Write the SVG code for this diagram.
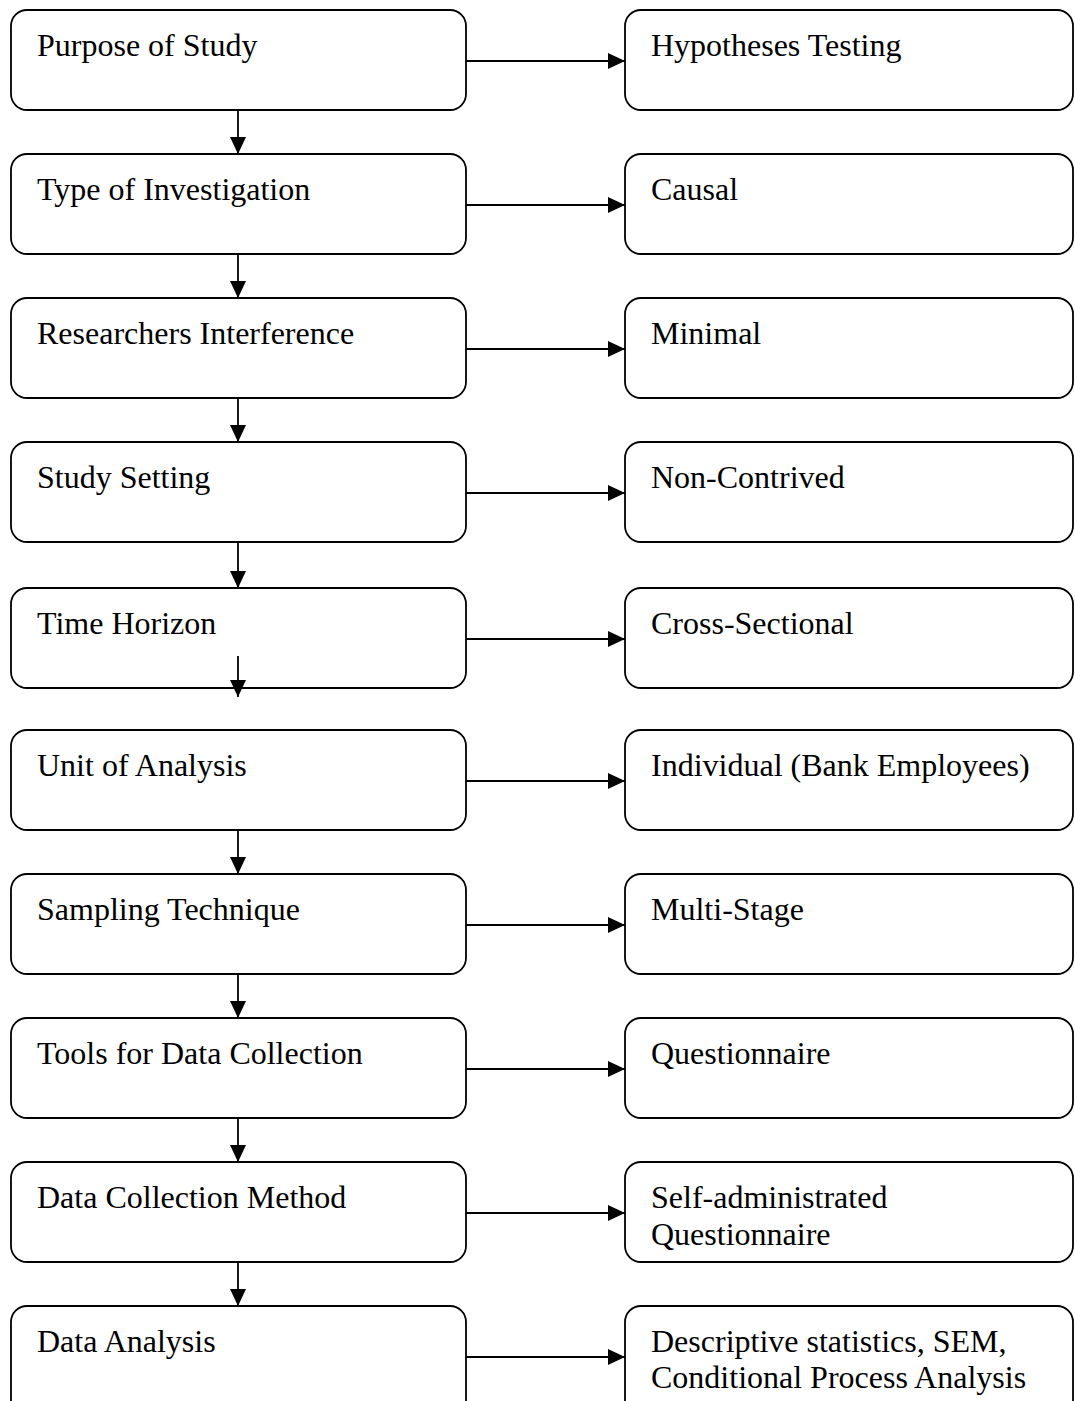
<svg xmlns="http://www.w3.org/2000/svg" width="1075" height="1401" viewBox="0 0 1075 1401">
  <style>
    .box { fill: #ffffff; stroke: #000000; stroke-width: 1.8; }
    .lbl { font-family: "Liberation Serif", "Times New Roman", serif; font-size: 32px; fill: #000000; }
    .edge { stroke: #000000; stroke-width: 1.8; fill: none; marker-end: url(#head); }
  </style>
  <defs>
    <marker id="head" markerUnits="userSpaceOnUse" markerWidth="17" markerHeight="16" refX="17" refY="8" orient="auto">
      <path d="M0,0 L17,8 L0,16 Z" fill="#000000"/>
    </marker>
  </defs>
  <rect width="1075" height="1401" fill="#ffffff"/>

  <!-- left column: study design steps -->
  <g id="purpose"><rect class="box" x="11" y="10" width="455" height="100" rx="16"/><text class="lbl" x="37" y="56">Purpose of Study</text></g>
  <g id="investigation"><rect class="box" x="11" y="154" width="455" height="100" rx="16"/><text class="lbl" x="37" y="200">Type of Investigation</text></g>
  <g id="interference"><rect class="box" x="11" y="298" width="455" height="100" rx="16"/><text class="lbl" x="37" y="344">Researchers Interference</text></g>
  <g id="setting"><rect class="box" x="11" y="442" width="455" height="100" rx="16"/><text class="lbl" x="37" y="488">Study Setting</text></g>
  <g id="horizon"><rect class="box" x="11" y="588" width="455" height="100" rx="16"/><text class="lbl" x="37" y="634">Time Horizon</text></g>
  <g id="unit"><rect class="box" x="11" y="730" width="455" height="100" rx="16"/><text class="lbl" x="37" y="776">Unit of Analysis</text></g>
  <g id="sampling"><rect class="box" x="11" y="874" width="455" height="100" rx="16"/><text class="lbl" x="37" y="920">Sampling Technique</text></g>
  <g id="tools"><rect class="box" x="11" y="1018" width="455" height="100" rx="16"/><text class="lbl" x="37" y="1064">Tools for Data Collection</text></g>
  <g id="method"><rect class="box" x="11" y="1162" width="455" height="100" rx="16"/><text class="lbl" x="37" y="1208">Data Collection Method</text></g>
  <g id="analysis"><rect class="box" x="11" y="1306" width="455" height="120" rx="16"/><text class="lbl" x="37" y="1352">Data Analysis</text></g>

  <!-- right column: choices made -->
  <g id="hypotheses"><rect class="box" x="625" y="10" width="448" height="100" rx="16"/><text class="lbl" x="651" y="56">Hypotheses Testing</text></g>
  <g id="causal"><rect class="box" x="625" y="154" width="448" height="100" rx="16"/><text class="lbl" x="651" y="200">Causal</text></g>
  <g id="minimal"><rect class="box" x="625" y="298" width="448" height="100" rx="16"/><text class="lbl" x="651" y="344">Minimal</text></g>
  <g id="noncontrived"><rect class="box" x="625" y="442" width="448" height="100" rx="16"/><text class="lbl" x="651" y="488">Non-Contrived</text></g>
  <g id="crosssectional"><rect class="box" x="625" y="588" width="448" height="100" rx="16"/><text class="lbl" x="651" y="634">Cross-Sectional</text></g>
  <g id="individual"><rect class="box" x="625" y="730" width="448" height="100" rx="16"/><text class="lbl" x="651" y="776">Individual (Bank Employees)</text></g>
  <g id="multistage"><rect class="box" x="625" y="874" width="448" height="100" rx="16"/><text class="lbl" x="651" y="920">Multi-Stage</text></g>
  <g id="questionnaire"><rect class="box" x="625" y="1018" width="448" height="100" rx="16"/><text class="lbl" x="651" y="1064">Questionnaire</text></g>
  <g id="selfadmin"><rect class="box" x="625" y="1162" width="448" height="100" rx="16"/><text class="lbl" x="651" y="1208">Self-administrated</text><text class="lbl" x="651" y="1245">Questionnaire</text></g>
  <g id="methods"><rect class="box" x="625" y="1306" width="448" height="120" rx="16"/><text class="lbl" x="651" y="1352">Descriptive statistics, SEM,</text><text class="lbl" x="651" y="1388">Conditional Process Analysis</text></g>

  <!-- connectors -->
  <g id="connectors">
    <line class="edge" x1="466" y1="61" x2="625" y2="61"/>
    <line class="edge" x1="466" y1="205" x2="625" y2="205"/>
    <line class="edge" x1="466" y1="349" x2="625" y2="349"/>
    <line class="edge" x1="466" y1="493" x2="625" y2="493"/>
    <line class="edge" x1="466" y1="639" x2="625" y2="639"/>
    <line class="edge" x1="466" y1="781" x2="625" y2="781"/>
    <line class="edge" x1="466" y1="925" x2="625" y2="925"/>
    <line class="edge" x1="466" y1="1069" x2="625" y2="1069"/>
    <line class="edge" x1="466" y1="1213" x2="625" y2="1213"/>
    <line class="edge" x1="466" y1="1357" x2="625" y2="1357"/>

    <line class="edge" x1="238" y1="110" x2="238" y2="154"/>
    <line class="edge" x1="238" y1="254" x2="238" y2="298"/>
    <line class="edge" x1="238" y1="398" x2="238" y2="442"/>
    <line class="edge" x1="238" y1="542" x2="238" y2="588"/>
    <line class="edge" x1="238" y1="656" x2="238" y2="697"/>
    <line class="edge" x1="238" y1="830" x2="238" y2="874"/>
    <line class="edge" x1="238" y1="974" x2="238" y2="1018"/>
    <line class="edge" x1="238" y1="1118" x2="238" y2="1162"/>
    <line class="edge" x1="238" y1="1262" x2="238" y2="1306"/>
  </g>
</svg>
